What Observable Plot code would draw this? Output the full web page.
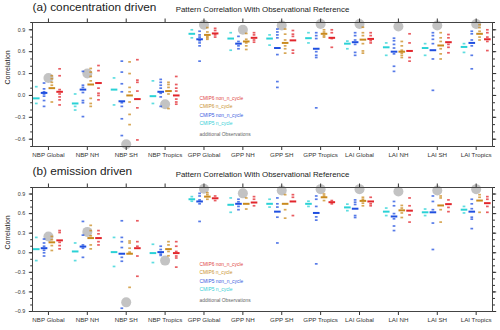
<!DOCTYPE html>
<html><head><meta charset="utf-8">
<script src="https://cdn.jsdelivr.net/npm/d3@7"></script>
<script src="https://cdn.jsdelivr.net/npm/@observablehq/plot@0.6"></script>
<style>
body{margin:0;background:#fff;width:500px;height:330px;overflow:hidden}
svg{display:block}
</style>
</head><body><div id="chart"></div>
<script>
const categories = ["NBP Global","NBP NH","NBP SH","NBP Tropics","GPP Global","GPP NH","GPP SH","GPP Tropics","LAI Global","LAI NH","LAI SH","LAI Tropics"];
const seriesNames = ["CMIP5 n_cycle","CMIP5 non_n_cycle","CMIP6 n_cycle","CMIP6 non_n_cycle"];
const panelTitles = ["(a) concentration driven","(b) emission driven"];
const mainTitle = "Pattern Correlation With Observational Reference";
const obsLabel = "additional Observations";
const yLabel = "Correlation";

// ---- (a) concentration driven ----
const concObs = [0.24,0.30,-0.67,-0.12,0.97,0.90,0.96,0.98,0.98,0.945,0.96,0.98];
const concCmip5nMean = [-0.04,-0.11,0.08,-0.01,0.845,0.78,0.78,0.785,0.71,0.66,0.65,0.665];
const concCmip5nModels = [[0.12,-0.11],[0.02,-0.15,-0.2],[0.24,-0.13],[0.2,-0.11],[0.9,0.79],[0.86,0.62],[0.83,0.69],[0.86,0.72],[0.745,0.64],[0.72,0.55],[0.71,0.55],[0.71,0.59]];
const concCmip5Mean = [0.035,0.08,-0.08,0.05,0.77,0.71,0.65,0.64,0.73,0.6,0.62,0.72];
const concCmip5Models = [[0.17,0.09,0.05,0.02,-0.01,-0.07,-0.15],[0.33,0.14,0.11,0.04,-0.07,-0.1,-0.29],[0.47,0.32,0.16,0.05,-0.1,-0.15,-0.32,-0.55],[0.22,0.18,0.14,0.1,0.03,-0.02,-0.15],[0.88,0.83,0.8,0.75,0.72,0.68,0.47],[0.81,0.74,0.68,0.64],[0.91,0.87,0.83,0.79,0.56,0.19,0.11],[0.86,0.82,0.78,0.6,0.55,0.52,-0.17],[0.86,0.82,0.76,0.7,0.59,0.55],[0.785,0.75,0.7,0.65,0.57,0.4,0.33],[0.86,0.82,0.77,0.71,0.5,0.07],[0.88,0.845,0.76,0.68,0.55,0.365]];
const concCmip6nMean = [0.10,0.15,0.0,0.06,0.83,0.74,0.72,0.845,0.765,0.6,0.685,0.845];
const concCmip6nModels = [[0.27,0.23,0.18,0.14,-0.09],[0.37,0.32,0.26,0.2,-0.04,-0.11,-0.15],[0.46,0.3,0.11,0.05,-0.09,-0.26,-0.4],[0.18,0.15,0.11,0.02,-0.18],[0.93,0.87,0.81,0.79,0.77],[0.85,0.77,0.72,0.68,0.63],[0.91,0.84,0.76,0.68,0.64,0.58],[0.9,0.87,0.82,0.8],[0.935,0.86,0.82,0.71,0.61,0.58],[0.74,0.68,0.62,0.58,0.55,0.52],[0.86,0.79,0.74,0.64,0.57,0.5],[0.97,0.93,0.88,0.8,0.76]];
const concCmip6Mean = [0.05,0.17,-0.05,0.0,0.85,0.79,0.755,0.79,0.775,0.61,0.73,0.77];
const concCmip6Models = [[0.365,0.27,0.08,0.02,-0.02,-0.06,-0.13],[0.41,0.34,0.1,0.03,0.0,-0.06],[0.49,0.21,0.18,0.06,-0.17,-0.61],[0.26,0.15,0.1,0.06,-0.05,-0.09,-0.12],[0.92,0.89,0.83,0.8],[0.86,0.83,0.76,0.73],[0.89,0.84,0.81,0.62,0.58],[0.9,0.86,0.78,0.66],[0.86,0.82,0.75,0.72],[0.845,0.72,0.52,0.47],[0.835,0.79,0.7,0.66,0.585],[0.9,0.86,0.8,0.74,0.615]];

// ---- (b) emission driven ----
const emisObs = [0.25,0.32,-0.76,-0.12,0.98,0.91,0.955,0.975,0.975,0.94,0.955,0.975];
const emisCmip5nMean = [0.055,0.02,0.01,-0.005,0.82,0.735,0.75,0.75,0.695,0.63,0.62,0.66];
const emisCmip5nModels = [[0.235,-0.12],[0.15,-0.12],[0.235,-0.21],[0.13,-0.15],[0.86,0.79],[0.84,0.62],[0.82,0.7],[0.79,0.71],[0.745,0.645],[0.685,0.57],[0.67,0.57],[0.71,0.61]];
const emisCmip5Mean = [0.07,0.095,-0.015,0.01,0.786,0.75,0.63,0.61,0.675,0.556,0.62,0.63];
const emisCmip5Models = [[0.21,0.15,0.1,0.04,0.0,-0.05],[0.48,0.27,0.12,0.07,-0.07],[0.49,0.235,0.17,0.08,-0.07,-0.13,-0.85],[0.1,0.05,-0.02,-0.04],[0.91,0.87,0.81,0.75,0.48],[0.82,0.78,0.71,0.66],[0.84,0.75,0.7,0.545,0.15],[0.87,0.82,0.71,0.55,0.5,-0.17],[0.81,0.775,0.74,0.57,0.54],[0.786,0.72,0.6,0.52,0.41,0.34],[0.87,0.786,0.66,0.455,0.05],[0.82,0.75,0.675,0.545,0.515,0.37]];
const emisCmip6nMean = [0.16,0.225,-0.015,0.056,0.86,0.75,0.75,0.85,0.795,0.65,0.725,0.8];
const emisCmip6nModels = [[0.25,0.2,0.11,0.035],[0.42,0.34,0.26,0.12,0.06],[0.18,0.15,0.07,0.01,-0.53],[0.17,0.12,0.02,-0.046],[0.92,0.89,0.82],[0.84,0.67],[0.89,0.66,0.53],[0.9,0.87,0.8],[0.85,0.82,0.76,0.72],[0.725,0.685,0.61,0.54],[0.87,0.84,0.66,0.47],[0.89,0.85,0.62]];
const emisCmip6Mean = [0.19,0.225,0.07,-0.005,0.835,0.77,0.786,0.775,0.786,0.645,0.745,0.76];
const emisCmip6Models = [[0.34,0.31,0.16,0.11,0.06],[0.34,0.29,0.17,0.12],[0.49,0.17,0.1,-0.05,-0.36],[0.17,0.1,0.02,-0.05,-0.08,-0.22],[0.87,0.8],[0.86,0.82,0.72],[0.89,0.85,0.57],[0.8,0.75],[0.85,0.75,0.72],[0.84,0.72,0.58,0.47],[0.81,0.695,0.63],[0.86,0.82,0.71,0.62]];

const yTickMajorA = [-0.6,-0.3,0.0,0.3,0.6,0.9];
const yTickMajorB = [-0.9,-0.6,-0.3,0.0,0.3,0.6,0.9];

// ---------- rendering ----------
const colors = ["#2ad2d6","#1f4fe0","#c98a1e","#e2262c"];
const legendColors = ["#35cfd6","#3a5ae0","#c9922e","#e04444"];
const offsets = [-0.3,-0.1,0.1,0.3];
const font = "Liberation Sans, Arial, Helvetica, sans-serif";

function panel(title, yDomain, majors, obs, means, models, legendDy, titleDy) {
  const marks = [];
  const minors = d3.range(Math.round(yDomain[0]*10), Math.round(yDomain[1]*10)+1).map(v => v/10);
  marks.push(Plot.dot(obs.map((v,i)=>({i, v})), {x:"i", y:"v", r:5, fill:"#c3c3c3", stroke:"none"}));
  for (let s = 0; s < 4; s++) {
    const rows = [];
    models[s].forEach((arr,i) => arr.forEach(v => rows.push({i, v})));
    marks.push(Plot.ruleY(rows, {y:"v", x1: d => d.i + offsets[s] - 0.035, x2: d => d.i + offsets[s] + 0.035, stroke: colors[s], strokeWidth: 1.7, strokeOpacity: 0.75}));
    marks.push(Plot.ruleY(means[s].map((v,i)=>({i,v})), {y:"v", x1: d => d.i + offsets[s] - 0.085, x2: d => d.i + offsets[s] + 0.085, stroke: colors[s], strokeWidth: 2}));
  }
  // axes
  marks.push(Plot.axisY({anchor:"left", ticks: minors, tickSize: 1.8, tickFormat: () => "", label: null}));
  marks.push(Plot.axisY({anchor:"left", ticks: majors, tickSize: 3.2, tickPadding: 4, tickFormat: d3.format(".1f"), fontSize: 5.4, label: null}));
  marks.push(Plot.axisY({anchor:"right", ticks: minors, tickSize: 2, tickFormat: () => "", label: null}));
  marks.push(Plot.axisY({anchor:"right", ticks: majors, tickSize: 3.2, tickFormat: () => "", label: null}));
  marks.push(Plot.axisX({anchor:"bottom", ticks: d3.range(categories.length), tickSize: 4, tickPadding: 2, tickFormat: i => categories[i], fontSize: 6.2, label: null}));
  marks.push(Plot.axisX({anchor:"top", ticks: d3.range(categories.length), tickSize: 4.5, tickFormat: () => "", label: null}));
  marks.push(Plot.frame({stroke:"#444", strokeWidth: 1}));
  // titles
  marks.push(Plot.text([title], {frameAnchor:"top-left", dy: titleDy[0], text: d => d, textAnchor:"start", lineAnchor:"middle", fontSize: 11.8, fill:"#222"}));
  marks.push(Plot.text([mainTitle], {frameAnchor:"top", dy: titleDy[1], text: d => d, lineAnchor:"middle", fontSize: 7.9, fill:"#222"}));
  marks.push(Plot.text([yLabel], {frameAnchor:"left", dx: -24.5, rotate: -90, text: d => d, lineAnchor:"middle", fontSize: 7, fill:"#222"}));
  // legend
  const legendItems = [3,2,1,0].map((s,k) => ({t: seriesNames[s], c: legendColors[s], k}));
  legendItems.push({t: obsLabel, c: "#666", k: 4});
  legendItems.forEach(d => {
    marks.push(Plot.text([d], {frameAnchor:"top-left", dx: 167, dy: legendDy[d.k], text: "t", textAnchor:"start", lineAnchor:"middle", fontSize: 4.9, fill: d.c}));
  });
  return Plot.plot({
    width: 500, height: 165,
    marginTop: 22, marginBottom: 19, marginLeft: 32, marginRight: 8,
    style: {fontFamily: font, color: "#333", background: "#fff"},
    x: {domain: [-0.41, 11.42]},
    y: {domain: yDomain},
    marks
  });
}

const el = document.getElementById("chart");
el.appendChild(panel(panelTitles[0], [-0.7, 1.0], yTickMajorA, concObs,
  [concCmip5nMean, concCmip5Mean, concCmip6nMean, concCmip6Mean],
  [concCmip5nModels, concCmip5Models, concCmip6nModels, concCmip6Models],
  [76, 84.3, 93, 101.3, 112], [-15, -13.5]));
el.appendChild(panel(panelTitles[1], [-0.9, 1.0], yTickMajorB, emisObs,
  [emisCmip5nMean, emisCmip5Mean, emisCmip6nMean, emisCmip6Mean],
  [emisCmip5nModels, emisCmip5Models, emisCmip6nModels, emisCmip6Models],
  [77, 85.4, 93.7, 102, 112.7], [-16, -13]));
</script>
</body></html>
